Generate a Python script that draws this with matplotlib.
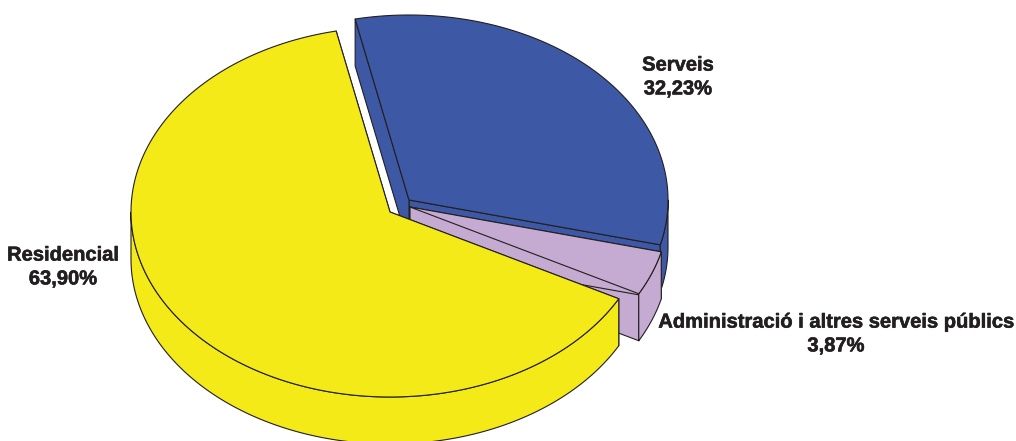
import numpy as np
import matplotlib
matplotlib.use('Agg')
import matplotlib.pyplot as plt
from matplotlib.patches import Polygon
import matplotlib.patheffects as pe

categories = ['Residencial', 'Administració i altres serveis públics', 'Serveis']
values = [63.90, 3.87, 32.23]
value_labels = ['63,90%', '3,87%', '32,23%']
colors = ['#F4EA17', '#C5ABD1', '#3D58A5']

W, H = 1016, 441
rx, ry = 259, 185
depth = 47
start = 102
centers = [(390, 212), (410, 207), (409, 200)]
label_pos = [(63, 267), (836, 334), (678, 77)]
edge = '#231F20'
lw = 0.8

plt.rcParams['font.family'] = ['Liberation Sans Narrow', 'Liberation Sans']

fig = plt.figure(figsize=(W/100, H/100), dpi=100)
ax = fig.add_axes([0, 0, 1, 1])
ax.set_xlim(0, W)
ax.set_ylim(H, 0)
ax.axis('off')

def arc(c, a, b, dz=0):
    t = np.radians(np.linspace(a, b, 200))
    return np.column_stack((c[0] + rx*np.cos(t), c[1] - ry*np.sin(t) + dz))

def poly(pts, col, z):
    ax.add_patch(Polygon(pts, closed=True, fc=col, ec=edge, lw=lw, joinstyle='round', zorder=z))

angles = start + np.concatenate(([0], np.cumsum(values))) * 3.6

# painter order: blue at the back, then lilac, yellow on top
for i in [2, 1, 0]:
    a, b = angles[i], angles[i+1]
    c = centers[i]
    z = 3 * (3 - i) if i != 2 else 1
    # cut faces
    for ang in (a, b):
        tip = arc(c, ang, ang)[0]
        poly([c, tip, (tip[0], tip[1]+depth), (c[0], c[1]+depth)], colors[i], z)
    # outer wall, only the part facing the viewer
    for lo, hi in ((180, 360), (540, 720)):
        l, h = max(a, lo), min(b, hi)
        if l < h:
            poly(np.vstack((arc(c, l, h), arc(c, h, l, depth))), colors[i], z + 1)
    # top
    poly(np.vstack(([c], arc(c, a, b))), colors[i], z + 2)

for name, val, pos in zip(categories, value_labels, label_pos):
    ax.text(pos[0], pos[1], name + '\n' + val, ha='center', va='center', fontsize=14.5,
            fontweight='bold', color=edge, linespacing=1.32, zorder=20,
            path_effects=[pe.withStroke(linewidth=0.4, foreground=edge)])

fig.savefig('out.png', dpi=100)
